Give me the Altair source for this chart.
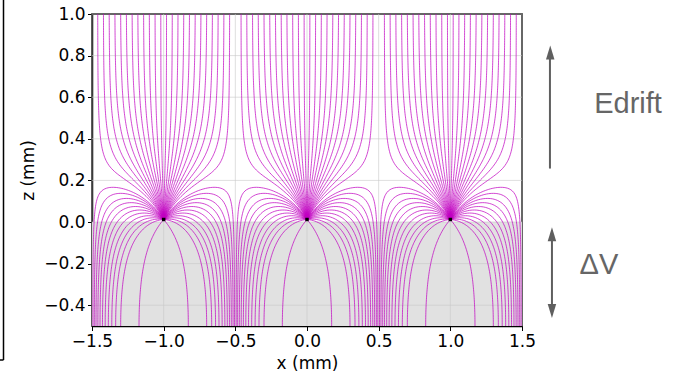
import numpy as np
import pandas as pd
import altair as alt

# ---- values ----
wire_x = [-1.0, 0.0, 1.0]          # wire positions (mm)
wire_z = 0.012                      # wire height (mm)
# x-offsets (from the wire) where lines leave the top edge, one cell
top_offsets = [-0.46, -0.42, -0.38, -0.34, -0.30, -0.26, -0.22, -0.18, -0.14, -0.10,
               -0.06, -0.02, 0.02, 0.06, 0.10, 0.14, 0.18, 0.22, 0.26, 0.30, 0.34,
               0.38, 0.42, 0.46]
# x-offsets (from the wire) where lines reach the bottom edge, one cell
bottom_offsets = [-0.494, -0.484, -0.472, -0.459, -0.444, -0.427, -0.408, -0.386,
                  -0.362, -0.335, -0.300, -0.172, 0.172, 0.300, 0.335, 0.362, 0.386,
                  0.408, 0.427, 0.444, 0.459, 0.472, 0.484, 0.494]
x_ticks = [-1.5, -1.0, -0.5, 0.0, 0.5, 1.0, 1.5]
z_ticks = [-0.4, -0.2, 0.0, 0.2, 0.4, 0.6, 0.8, 1.0]
x_range = [-1.5, 1.5]
z_range = [-0.5, 1.0]
gap_range = [-0.5, 0.0]             # shaded region (ΔV gap)
stagnation_height = 0.19            # where the arcs turn over, between wires

# ---- field model: periodic wire row above a grounded plane + drift field ----
img_z = 2 * z_range[0] - wire_z
E0 = np.pi * (np.tanh(np.pi * (stagnation_height + wire_z - img_z))
              - np.tanh(np.pi * stagnation_height))


def field(zeta):
    F = np.pi / np.tan(np.pi * (zeta - 1j * wire_z))
    F = F - np.pi / np.tan(np.pi * (zeta - 1j * img_z))
    return np.conj(F) + 1j * E0


def back(zeta):
    e = field(zeta)
    return -e / np.abs(e)


starts = np.array([o + 1j * z_range[1] for o in top_offsets] +
                  [o + 1j * z_range[0] for o in bottom_offsets], dtype=complex)
n = len(starts)
pos = starts.copy()
paths = [[p] for p in pos]
active = np.ones(n, bool)
wire_c = 1j * wire_z
for step in range(8000):
    idx = np.where(active)[0]
    if len(idx) == 0:
        break
    p = pos[idx]
    r = np.abs(p - wire_c)
    h = np.clip(0.25 * r, 0.0003, 0.004)
    k1 = back(p)
    k2 = back(p + 0.5 * h * k1)
    k3 = back(p + 0.5 * h * k2)
    k4 = back(p + h * k3)
    p = p + h / 6 * (k1 + 2 * k2 + 2 * k3 + k4)
    pos[idx] = p
    for j, i in enumerate(idx):
        paths[i].append(p[j])
    done = np.abs(p - wire_c) < 0.003
    for i in idx[done]:
        paths[i].append(wire_c)
    active[idx[done]] = False

rows = []
lid = 0
for path in paths:
    arr = np.array(path)
    keep = [0]
    for k in range(1, len(arr)):
        d = np.hypot((arr[k].real - arr[keep[-1]].real) * 143.3,
                     (arr[k].imag - arr[keep[-1]].imag) * 208.4)
        if d >= 1.5 or k == len(arr) - 1:
            keep.append(k)
    arr = arr[keep]
    for wx in wire_x:
        for o, c in enumerate(arr):
            rows.append((lid, o, c.real + wx, c.imag))
        lid += 1

lines_df = pd.DataFrame(rows, columns=["line", "ord", "x", "z"])

xs = alt.Scale(domain=x_range, nice=False, zero=False)
zs = alt.Scale(domain=z_range, nice=False, zero=False)
x_axis = alt.Axis(values=x_ticks, format=".1f", title="x (mm)", grid=False,
                  titleY=37, titleBaseline="middle", labelFlush=False, labelOverlap=False)
z_axis = alt.Axis(values=z_ticks, format=".1f", title="z (mm)", grid=False,
                  titleX=-64, titleY=156, titleAngle=-90, titleBaseline="middle",
                  titleAlign="center", labelFlush=False, labelOverlap=False)

gap = alt.Chart(pd.DataFrame({"x": [x_range[0]], "x2": [x_range[1]],
                              "z": [gap_range[0]], "z2": [gap_range[1]]})).mark_rect(
    color="#e1e1e1").encode(
    x=alt.X("x:Q", scale=xs, axis=x_axis), x2="x2",
    y=alt.Y("z:Q", scale=zs, axis=z_axis), y2="z2")

vgrid = alt.Chart(pd.DataFrame({"x": x_ticks})).mark_rule(
    color="#c8c8c8", strokeWidth=0.8, opacity=0.75).encode(x=alt.X("x:Q", scale=xs))
hgrid = alt.Chart(pd.DataFrame({"z": z_ticks})).mark_rule(
    color="#c8c8c8", strokeWidth=0.8, opacity=0.75).encode(y=alt.Y("z:Q", scale=zs))

flines = alt.Chart(lines_df).mark_line(
    color="#c000c0", strokeWidth=0.9, opacity=0.8).encode(
    x=alt.X("x:Q", scale=xs), y=alt.Y("z:Q", scale=zs),
    detail="line:N", order="ord:Q")

wires = alt.Chart(pd.DataFrame({"x": wire_x, "z": [wire_z] * 3})).mark_point(
    shape="square", size=12, filled=True, color="black", opacity=1).encode(
    x=alt.X("x:Q", scale=xs), y=alt.Y("z:Q", scale=zs))

# annotations on the right
arrow_col = "#5f5f5f"
shafts = pd.DataFrame({"x": [1.695, 1.709], "z": [0.257, -0.059], "z2": [0.80, -0.428]})
shaft = alt.Chart(shafts).mark_rule(color=arrow_col, strokeWidth=2).encode(
    x=alt.X("x:Q", scale=xs), y=alt.Y("z:Q", scale=zs), y2="z2")
heads_up = alt.Chart(pd.DataFrame({"x": [1.697, 1.709], "z": [0.815, -0.059]})).mark_point(
    shape="M0,-1L0.6,1L-0.6,1Z", size=200, filled=True, color=arrow_col, opacity=1).encode(
    x=alt.X("x:Q", scale=xs), y=alt.Y("z:Q", scale=zs))
heads_dn = alt.Chart(pd.DataFrame({"x": [1.709], "z": [-0.428]})).mark_point(
    shape="M0,1L0.6,-1L-0.6,-1Z", size=200, filled=True, color=arrow_col, opacity=1).encode(
    x=alt.X("x:Q", scale=xs), y=alt.Y("z:Q", scale=zs))
labels = alt.Chart(pd.DataFrame({"x": [2.24, 2.037], "z": [0.565, -0.208],
                                 "t": ["Edrift", "ΔV"]})).mark_text(
    font="Liberation Sans", fontSize=29, color="#666666", align="center",
    baseline="middle").encode(
    x=alt.X("x:Q", scale=xs), y=alt.Y("z:Q", scale=zs), text="t:N")

frame_v = alt.Chart(pd.DataFrame({"a": [0]})).mark_rule(color="black", strokeWidth=1.5).encode(
    x=alt.value(-88.5), y=alt.value(-14), y2=alt.value(346))
frame_h = alt.Chart(pd.DataFrame({"a": [0]})).mark_rule(color="black", strokeWidth=1.5).encode(
    x=alt.value(-92), x2=alt.value(-88.5), y=alt.value(346))

chart = alt.layer(gap, vgrid, hgrid, flines, wires, shaft, heads_up, heads_dn, labels,
                  frame_v, frame_h).properties(
    width=430, height=312,
    autosize=alt.AutoSizeParams(type="none"),
    padding={"left": 92, "top": 14, "right": 161, "bottom": 49},
).configure_view(stroke="black", strokeWidth=1.5).configure_axis(
    labelFont="DejaVu Sans", labelFontSize=17, labelColor="black",
    titleFont="DejaVu Sans", titleFontSize=17, titleFontWeight="normal", titleColor="black",
    domainColor="black", domainWidth=1.5, tickColor="black", tickSize=4.5, tickWidth=1,
    labelPadding=2.5)

chart.save("out.html", embed_options={"renderer": "svg", "actions": False})
